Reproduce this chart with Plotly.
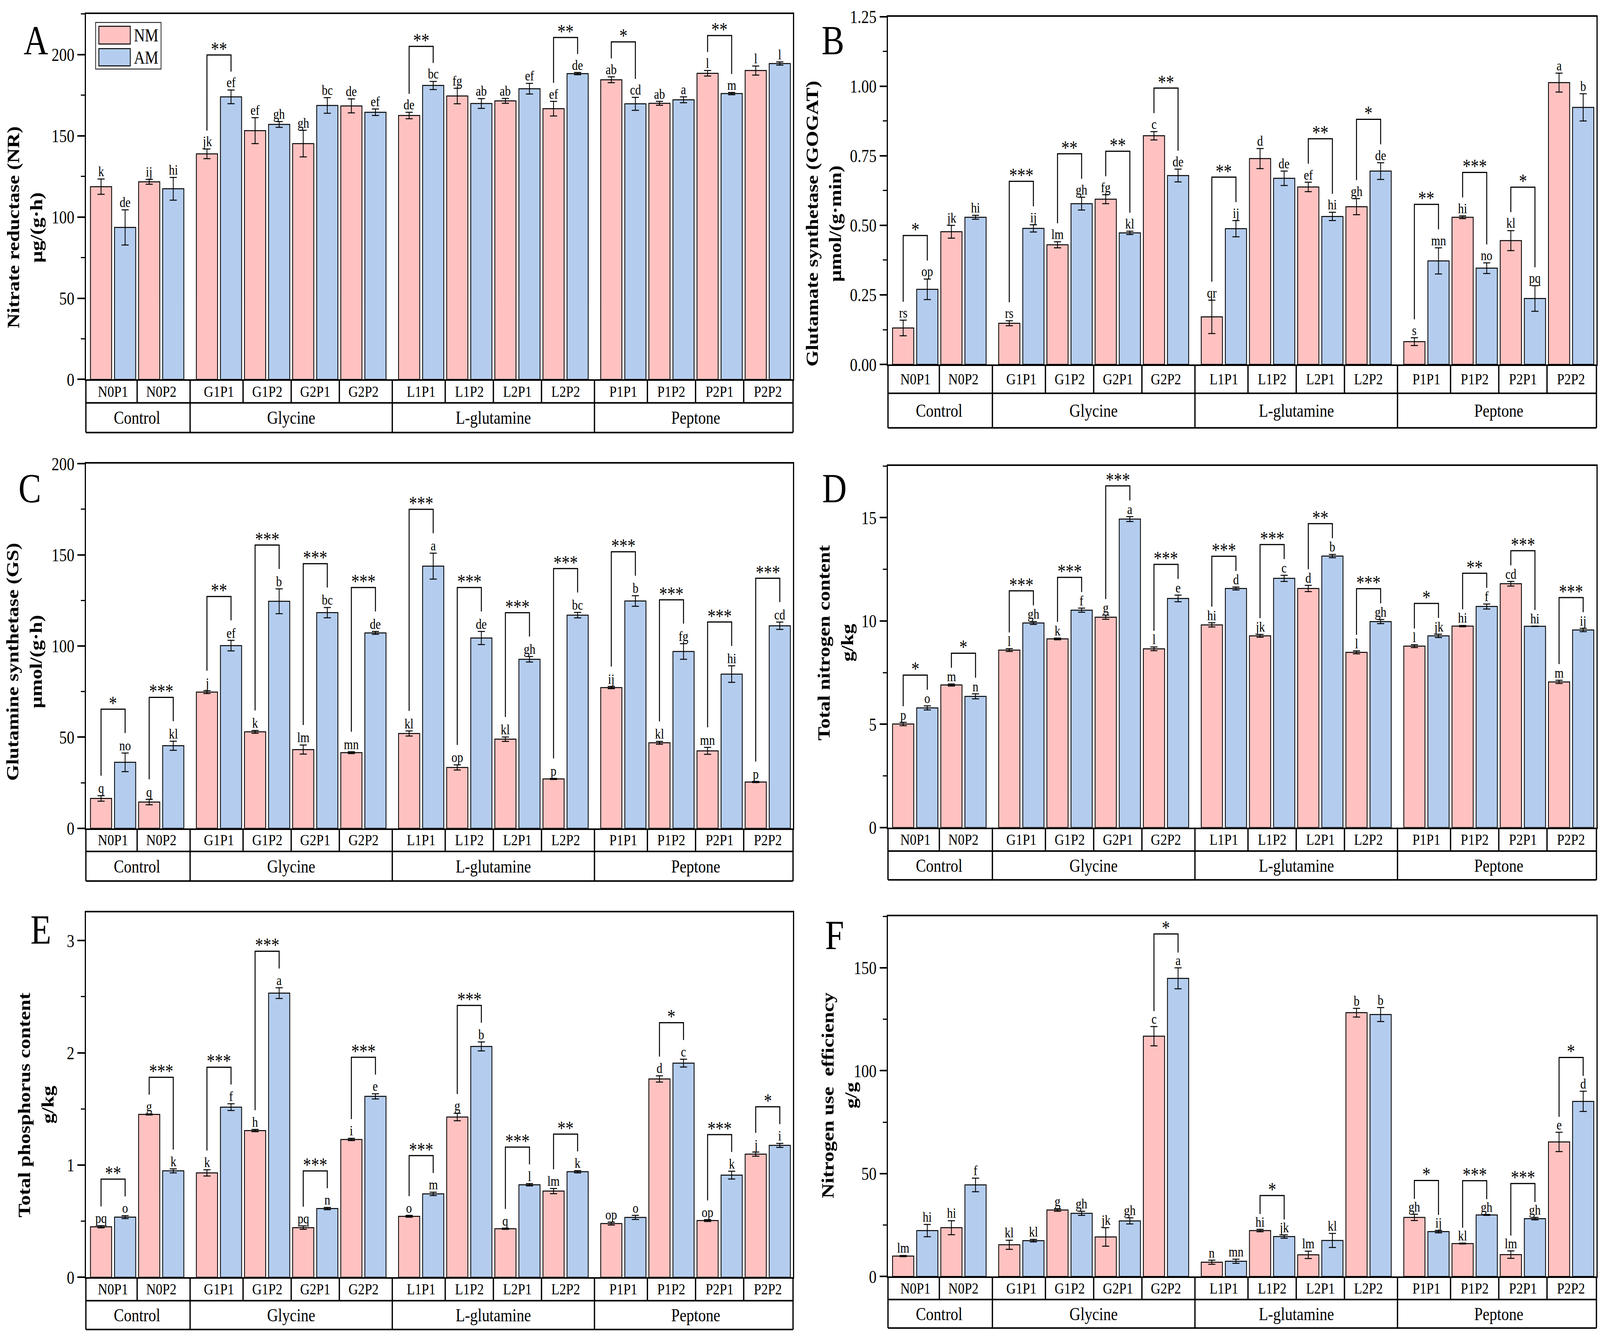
import plotly.graph_objects as go

# ── shared categories ──
treatments = ["N0P1", "N0P2", "G1P1", "G1P2", "G2P1", "G2P2", "L1P1",
              "L1P2", "L2P1", "L2P2", "P1P1", "P1P2", "P2P1", "P2P2"]
categories = ["Control", "Glycine", "L-glutamine", "Peptone"]
category_sizes = [2, 4, 4, 4]

# ── A: nitrate reductase ──
nr_nm = [118.7, 121.7, 138.9, 153.2, 145.2, 168.4, 162.5, 174.5, 171.5, 166.7, 184.5, 170.0, 188.5, 190.2]
nr_nm_err = [4.7, 1.5, 3.0, 8.0, 8.2, 4.3, 2.0, 4.8, 1.5, 4.5, 1.8, 1.2, 1.7, 2.8]
nr_am = [93.6, 117.4, 174.0, 157.0, 168.7, 164.5, 181.0, 169.9, 179.0, 188.3, 169.7, 172.2, 176.0, 194.5]
nr_am_err = [10.8, 7.0, 4.2, 1.8, 4.8, 2.0, 2.5, 3.0, 3.3, 0.7, 4.0, 1.8, 0.7, 1.0]
nr_nm_letters = ["k", "ij", "jk", "ef", "gh", "de", "de", "fg", "ab", "ef", "ab", "ab", "l", "l"]
nr_am_letters = ["de", "hi", "ef", "gh", "bc", "ef", "bc", "ab", "ef", "de", "cd", "a", "m", "l"]
nr_sig = ["", "", "**", "", "", "", "**", "", "", "**", "*", "", "**", ""]

# ── B: GOGAT ──
gogat_nm = [0.131, 0.477, 0.148, 0.430, 0.594, 0.822, 0.171, 0.740, 0.638, 0.567, 0.082, 0.529, 0.445, 1.013]
gogat_nm_err = [0.028, 0.023, 0.009, 0.011, 0.016, 0.015, 0.060, 0.036, 0.017, 0.029, 0.014, 0.005, 0.036, 0.034]
gogat_am = [0.270, 0.529, 0.489, 0.578, 0.473, 0.679, 0.488, 0.669, 0.532, 0.695, 0.372, 0.346, 0.237, 0.924]
gogat_am_err = [0.037, 0.007, 0.013, 0.023, 0.006, 0.023, 0.029, 0.026, 0.015, 0.030, 0.047, 0.019, 0.046, 0.049]
gogat_nm_letters = ["rs", "jk", "rs", "lm", "fg", "c", "qr", "d", "ef", "gh", "s", "hi", "kl", "a"]
gogat_am_letters = ["op", "hi", "ij", "gh", "kl", "de", "ij", "de", "hi", "de", "mn", "no", "pq", "b"]
gogat_sig = ["*", "", "***", "**", "**", "**", "**", "", "**", "*", "**", "***", "*", ""]

# ── C: GS ──
gs_nm = [16.4, 14.4, 74.7, 52.9, 43.2, 41.5, 52.0, 33.4, 48.9, 27.1, 77.2, 46.9, 42.5, 25.4]
gs_nm_err = [1.5, 1.5, 0.8, 0.8, 2.5, 0.5, 1.4, 1.4, 1.2, 0.3, 0.6, 0.8, 1.9, 0.3]
gs_am = [36.2, 45.3, 100.2, 124.5, 118.3, 107.2, 143.8, 104.4, 92.7, 116.9, 124.7, 97.0, 84.6, 111.1]
gs_am_err = [5.1, 2.5, 2.9, 6.8, 2.8, 0.8, 7.1, 3.6, 1.5, 1.5, 2.9, 4.3, 4.5, 2.0]
gs_nm_letters = ["q", "q", "j", "k", "lm", "mn", "kl", "op", "kl", "p", "ij", "kl", "mn", "p"]
gs_am_letters = ["no", "kl", "ef", "b", "bc", "de", "a", "de", "gh", "bc", "b", "fg", "hi", "cd"]
gs_sig = ["*", "***", "**", "***", "***", "***", "***", "***", "***", "***", "***", "***", "***", "***"]

# ── D: total nitrogen ──
tn_nm = [5.01, 6.90, 8.59, 9.13, 10.18, 8.65, 9.81, 9.28, 11.57, 8.48, 8.78, 9.75, 11.80, 7.05]
tn_nm_err = [0.08, 0.05, 0.07, 0.04, 0.10, 0.09, 0.10, 0.07, 0.15, 0.07, 0.07, 0.03, 0.11, 0.08]
tn_am = [5.79, 6.35, 9.90, 10.52, 14.93, 11.09, 11.57, 12.06, 13.14, 9.97, 9.28, 10.70, 9.74, 9.56]
tn_am_err = [0.10, 0.12, 0.07, 0.10, 0.12, 0.16, 0.07, 0.15, 0.08, 0.10, 0.08, 0.12, 0.01, 0.08]
tn_nm_letters = ["p", "m", "l", "k", "g", "l", "hi", "jk", "d", "l", "l", "hi", "cd", "m"]
tn_am_letters = ["o", "n", "gh", "f", "a", "e", "d", "c", "b", "gh", "jk", "f", "hi", "ij"]
tn_sig = ["*", "*", "***", "***", "***", "***", "***", "***", "**", "***", "*", "**", "***", "***"]

# ── E: total phosphorus ──
tp_nm = [0.450, 1.451, 0.930, 1.307, 0.442, 1.228, 0.543, 1.428, 0.432, 0.768, 0.478, 1.767, 0.505, 1.097]
tp_nm_err = [0.010, 0.005, 0.028, 0.010, 0.015, 0.010, 0.008, 0.033, 0.005, 0.023, 0.013, 0.028, 0.008, 0.018]
tp_am = [0.536, 0.948, 1.516, 2.532, 0.612, 1.612, 0.743, 2.057, 0.824, 0.940, 0.533, 1.908, 0.910, 1.175]
tp_am_err = [0.013, 0.018, 0.030, 0.048, 0.010, 0.023, 0.015, 0.040, 0.010, 0.010, 0.018, 0.035, 0.035, 0.018]
tp_nm_letters = ["pq", "g", "k", "h", "pq", "i", "o", "g", "q", "lm", "op", "d", "op", "j"]
tp_am_letters = ["o", "k", "f", "a", "n", "e", "m", "b", "l", "k", "o", "c", "k", "i"]
tp_sig = ["**", "***", "***", "***", "***", "***", "***", "***", "***", "**", "", "*", "***", "*"]

# ── F: nitrogen use efficiency ──
nue_nm = [9.9, 23.7, 15.4, 32.3, 19.2, 116.8, 6.9, 22.3, 10.5, 128.2, 28.7, 16.0, 10.6, 65.4]
nue_nm_err = [0.3, 3.4, 2.2, 0.6, 4.5, 4.7, 1.0, 0.6, 1.8, 2.1, 1.5, 0.2, 1.8, 4.7]
nue_am = [22.3, 44.5, 17.4, 30.7, 27.0, 144.9, 7.4, 19.4, 17.5, 127.3, 21.8, 29.9, 28.1, 85.1]
nue_am_err = [3.0, 3.3, 0.6, 1.0, 1.5, 5.1, 1.0, 0.8, 3.4, 3.4, 0.6, 0.2, 0.6, 4.9]
nue_nm_letters = ["lm", "hi", "kl", "g", "jk", "c", "n", "hi", "lm", "b", "gh", "kl", "lm", "e"]
nue_am_letters = ["hi", "f", "kl", "gh", "gh", "a", "mn", "jk", "kl", "b", "ij", "gh", "gh", "d"]
nue_sig = ["", "", "", "", "", "*", "", "*", "", "", "*", "***", "***", "*"]

W, H = 4937, 3436
FONT = "Liberation Serif"
NM_COLOR = "#FFC2C0"
AM_COLOR = "#B4CDEF"
GAP = 0.4          # extra space between treatment categories (in bar units)
PAD_L, PAD_R = 0.13, 0.05
BAR_W = 0.88
TITLE_LINE_GAP = 72

# panel geometry in page pixels: left, right, top, zero line, table row heights;
# title_pos = (x of second title line, y centre); gaps = bracket leg / top offsets in px
panels = [
    dict(letter="A", title=("Nitrate reductase (NR)", "μg/(g·h)"), nm=nr_nm, nm_err=nr_nm_err,
         am=nr_am, am_err=nr_am_err, nm_let=nr_nm_letters, am_let=nr_am_letters, sig=nr_sig,
         ymax=225, dtick=50, minor=25, fmt="d",
         box=(265, 2447, 10, 960, 61, 77), title_pos=(113, 565), letter_xy=(111, 79), gaps=(48, 43)),
    dict(letter="B", title=("Glutamate synthetase (GOGAT)", "μmol/(g·min)"), nm=gogat_nm, nm_err=gogat_nm_err,
         am=gogat_am, am_err=gogat_am_err, nm_let=gogat_nm_letters, am_let=gogat_am_letters, sig=gogat_sig,
         ymax=1.25, dtick=0.25, minor=0.125, fmt=".2f",
         box=(2740, 4926, 17, 921, 75, 90), title_pos=(2578, 555), letter_xy=(2570, 79), gaps=(48, 65)),
    dict(letter="C", title=("Glutamine synthetase (GS)", "μmol/(g·h)"), nm=gs_nm, nm_err=gs_nm_err,
         am=gs_am, am_err=gs_am_err, nm_let=gs_nm_letters, am_let=gs_am_letters, sig=gs_sig,
         ymax=200, dtick=50, minor=25, fmt="d",
         box=(265, 2447, 1179, 2127, 60, 77), title_pos=(111, 1694), letter_xy=(92, 1243), gaps=(52, 62)),
    dict(letter="D", title=("Total nitrogen content", "g/kg"), nm=tn_nm, nm_err=tn_nm_err,
         am=tn_am, am_err=tn_am_err, nm_let=tn_nm_letters, am_let=tn_am_letters, sig=tn_sig,
         ymax=17.5, dtick=5, minor=2.5, fmt="d",
         box=(2740, 4926, 1185, 2125, 61, 75), title_pos=(2614, 1645), letter_xy=(2575, 1243), gaps=(42, 38)),
    dict(letter="E", title=("Total phosphorus content", "g/kg"), nm=tp_nm, nm_err=tp_nm_err,
         am=tp_am, am_err=tp_am_err, nm_let=tp_nm_letters, am_let=tp_am_letters, sig=tp_sig,
         ymax=3.25, dtick=1, minor=0.5, fmt="d",
         box=(265, 2447, 2346, 3294, 61, 75), title_pos=(147, 2846), letter_xy=(126, 2391), gaps=(50, 45)),
    dict(letter="F", title=("Nitrogen use  efficiency", "g/g"), nm=nue_nm, nm_err=nue_nm_err,
         am=nue_am, am_err=nue_am_err, nm_let=nue_nm_letters, am_let=nue_am_letters, sig=nue_sig,
         ymax=175, dtick=50, minor=25, fmt="d",
         box=(2740, 4926, 2356, 3292, 60, 74), title_pos=(2626, 2821), letter_xy=(2575, 2405), gaps=(40, 48)),
]


def px(x):
    return x / W


def py(y):
    return 1 - y / H


# bar centres from treatment index and its category
cat_of = [c for c, n in enumerate(category_sizes) for _ in range(n)]
nm_x = [2 * t + GAP * cat_of[t] for t in range(len(treatments))]
am_x = [x + 1 for x in nm_x]
x_min = nm_x[0] - 0.5 - PAD_L
x_max = am_x[-1] + 0.5 + PAD_R


def xfrac(x):
    return (x - x_min) / (x_max - x_min)


def label(**kw):
    # centred text annotation (auto anchoring shifts paper/domain texts)
    base = dict(showarrow=False, xanchor="center", yanchor="middle")
    base.update(kw)
    return base


fig = go.Figure()
shapes, annotations = [], []
line_k = dict(color="black", width=4)

for i, p in enumerate(panels, start=1):
    sx = "" if i == 1 else str(i)
    xa, ya = "x" + sx, "y" + sx
    left, right, top, zero, row1, row2 = p["box"]
    ax_h = zero - top
    unit_px = ax_h / p["ymax"]
    leg_gap, top_gap = p["gaps"]

    for vals, errs, xs, color in ((p["nm"], p["nm_err"], nm_x, NM_COLOR),
                                  (p["am"], p["am_err"], am_x, AM_COLOR)):
        fig.add_trace(go.Bar(
            x=xs, y=vals, width=BAR_W, xaxis=xa, yaxis=ya, showlegend=False,
            marker=dict(color=color, line=dict(color="black", width=2.5)),
            error_y=dict(type="data", array=errs, color="black", thickness=2.5, width=11),
        ))

    # letters above error bars
    for vals, errs, xs, lets in ((p["nm"], p["nm_err"], nm_x, p["nm_let"]),
                                 (p["am"], p["am_err"], am_x, p["am_let"])):
        for x, v, e, s in zip(xs, vals, errs, lets):
            annotations.append(label(x=x, y=v + e, xref=xa, yref=ya, text=s,
                                     yanchor="bottom", yshift=-3,
                                     font=dict(family=FONT, size=36, color="black")))

    # significance brackets
    bx, by = [], []
    for t, s in enumerate(p["sig"]):
        if not s:
            continue
        l0 = p["nm"][t] + p["nm_err"][t] + leg_gap / unit_px
        l1 = p["am"][t] + p["am_err"][t] + leg_gap / unit_px
        tp = max(l0, l1) + top_gap / unit_px
        bx += [nm_x[t], nm_x[t], am_x[t], am_x[t], None]
        by += [l0, tp, tp, l1, None]
        annotations.append(label(x=(nm_x[t] + am_x[t]) / 2, y=tp, xref=xa, yref=ya, text=s,
                                 yanchor="bottom", yshift=-14,
                                 font=dict(family=FONT, size=50, color="black")))
    fig.add_trace(go.Scatter(x=bx, y=by, mode="lines", xaxis=xa, yaxis=ya, showlegend=False,
                             line=dict(color="black", width=3), hoverinfo="skip"))

    fig.update_layout({
        "xaxis" + sx: dict(domain=[px(left), px(right)], anchor=ya, range=[x_min, x_max],
                           showticklabels=False, ticks="", showgrid=False, zeroline=False,
                           showline=True, linecolor="black", linewidth=4, mirror=True),
        "yaxis" + sx: dict(domain=[py(zero), py(top)], anchor=xa, range=[0, p["ymax"]],
                           tick0=0, dtick=p["dtick"], tickformat=p["fmt"],
                           ticks="outside", ticklen=22, tickwidth=3.5, tickcolor="black",
                           minor=dict(tick0=0, dtick=p["minor"], ticks="outside", ticklen=12,
                                      tickwidth=3, tickcolor="black", showgrid=False),
                           showgrid=False, zeroline=False, showline=True, linecolor="black",
                           linewidth=4, mirror=True,
                           tickfont=dict(family=FONT, size=47, color="black")),
    })

    # category table under the axis
    xd, yd = xa + " domain", ya + " domain"
    r1 = -row1 / ax_h
    r2 = -(row1 + row2) / ax_h
    for yy in (r1, r2):
        shapes.append(dict(type="line", xref=xd, yref=yd, x0=0, x1=1, y0=yy, y1=yy, line=line_k))
    for xx in (0, 1):
        shapes.append(dict(type="line", xref=xd, yref=yd, x0=xx, x1=xx, y0=0, y1=r2, line=line_k))
    for t in range(len(treatments) - 1):
        xb = xfrac((am_x[t] + nm_x[t + 1]) / 2)
        y_end = r2 if cat_of[t] != cat_of[t + 1] else r1
        shapes.append(dict(type="line", xref=xd, yref=yd, x0=xb, x1=xb, y0=0, y1=y_end, line=line_k))
    for t, name in enumerate(treatments):
        annotations.append(label(x=xfrac((nm_x[t] + am_x[t]) / 2), y=r1 / 2, xref=xd, yref=yd,
                                 text=name, font=dict(family=FONT, size=41, color="black")))
    start = 0
    for c, n in enumerate(category_sizes):
        c_mid = (nm_x[start] + am_x[start + n - 1]) / 2
        annotations.append(label(x=xfrac(c_mid), y=(r1 + r2) / 2, xref=xd, yref=yd,
                                 text=categories[c], font=dict(family=FONT, size=47, color="black")))
        start += n

    # two-line y title and panel letter
    tx, ty = p["title_pos"]
    for k, line in enumerate(p["title"]):
        annotations.append(label(x=px(tx - TITLE_LINE_GAP * (1 - k)), y=py(ty), xref="paper",
                                 yref="paper", text="<b>%s</b>" % line, textangle=-90,
                                 font=dict(family=FONT, size=53, color="black")))
    lx, ly = p["letter_xy"]
    annotations.append(label(x=px(lx), y=py(ly), xref="paper", yref="paper", text=p["letter"],
                             font=dict(family=FONT, size=105, color="black")))

# legend box drawn inside panel A
shapes.append(dict(type="rect", xref="paper", yref="paper", x0=px(295), x1=px(497),
                   y0=py(153), y1=py(32), line=dict(color="black", width=2)))
for (y0, y1), color, name in (((42, 88), NM_COLOR, "NM"), ((100, 145), AM_COLOR, "AM")):
    shapes.append(dict(type="rect", xref="paper", yref="paper", x0=px(305), x1=px(402),
                       y0=py(y1), y1=py(y0), fillcolor=color, line=dict(color="black", width=2.5)))
    annotations.append(label(x=px(411), y=py((y0 + y1) / 2), xref="paper", yref="paper", text=name,
                             xanchor="left", font=dict(family=FONT, size=47, color="black")))

fig.update_layout(
    width=W, height=H, margin=dict(l=0, r=0, t=0, b=0),
    paper_bgcolor="white", plot_bgcolor="white", barmode="overlay",
    showlegend=False, shapes=shapes, annotations=annotations,
    font=dict(family=FONT, color="black"),
)

# stretch the fixed-size figure so that it covers the whole browser viewport
fit_js = """
var gd = document.getElementById('{plot_id}');
var sx = window.innerWidth / %d;
var sy = window.innerHeight / %d;
document.documentElement.style.margin = '0';
document.body.style.margin = '0';
document.documentElement.style.overflow = 'hidden';
document.body.style.overflow = 'hidden';
gd.style.transformOrigin = '0 0';
gd.style.transform = 'scale(' + sx + ',' + sy + ')';
gd.parentElement.style.width = window.innerWidth + 'px';
gd.parentElement.style.height = window.innerHeight + 'px';
gd.parentElement.style.overflow = 'hidden';
""" % (W, H)

fig.write_html("out.html", post_script=fit_js, config={"displayModeBar": False})
